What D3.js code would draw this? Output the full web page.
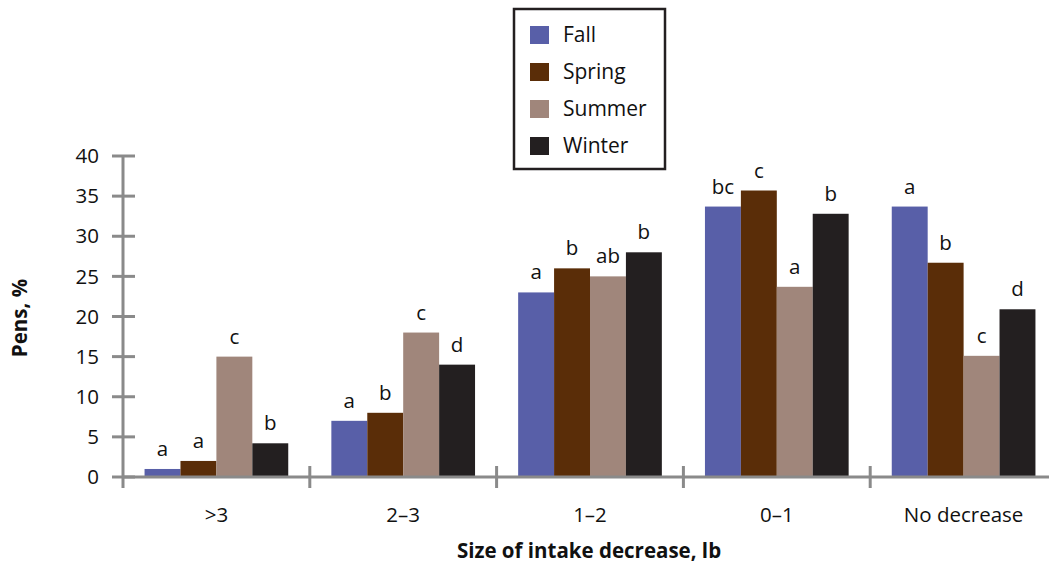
<!DOCTYPE html>
<html>
<head>
<meta charset="utf-8">
<script src="https://cdn.jsdelivr.net/npm/d3@7"></script>
<style>
body { margin: 0; background: #fff; }
svg { display: block; }
text { font-family: "Open Sans", "Noto Sans", sans-serif; fill: #111; }
</style>
</head>
<body>
<svg id="chart" width="1049" height="565"></svg>
<script>
const categories = [">3", "2\u20133", "1\u20132", "0\u20131", "No decrease"];
const seriesNames = ["Fall", "Spring", "Summer", "Winter"];
const seriesColors = ["#585fa8", "#5a2d08", "#a0867b", "#231f20"];
const fallValues   = [1.0, 7.0, 23.0, 33.7, 33.7];
const springValues = [2.0, 8.0, 26.0, 35.7, 26.7];
const summerValues = [15.0, 18.0, 25.0, 23.7, 15.1];
const winterValues = [4.2, 14.0, 28.0, 32.8, 20.9];
const fallLetters   = ["a", "a", "a", "bc", "a"];
const springLetters = ["a", "b", "b", "c", "b"];
const summerLetters = ["c", "c", "ab", "a", "c"];
const winterLetters = ["b", "d", "b", "b", "d"];
const yTicks = [0, 5, 10, 15, 20, 25, 30, 35, 40];

const seriesValues = [fallValues, springValues, summerValues, winterValues];
const seriesLetters = [fallLetters, springLetters, summerLetters, winterLetters];

const svg = d3.select("#chart");
const pLeft = 123, pRight = 1057, pTop = 156, pBottom = 477;

const x0 = d3.scaleBand().domain(categories).range([pLeft, pRight]).paddingInner(0).paddingOuter(0);
const x1 = d3.scaleBand().domain(seriesNames).range([0, x0.bandwidth()]).paddingOuter(0.6).paddingInner(0);
const y = d3.scaleLinear().domain([0, 40]).range([pBottom, pTop]);

const axisColor = "#8a8a8a";
const fs = 20.5;

// bars
const rows = [];
categories.forEach((c, ci) => {
  seriesNames.forEach((s, si) => {
    rows.push({ cat: c, series: s, si, value: seriesValues[si][ci], letter: seriesLetters[si][ci] });
  });
});

svg.append("g").selectAll("rect").data(rows).join("rect")
  .attr("x", d => x0(d.cat) + x1(d.series))
  .attr("y", d => y(d.value))
  .attr("width", x1.bandwidth())
  .attr("height", d => y(0) - y(d.value))
  .attr("fill", d => seriesColors[d.si]);

svg.append("g").selectAll("text").data(rows).join("text")
  .attr("x", d => x0(d.cat) + x1(d.series) + x1.bandwidth() / 2)
  .attr("y", d => y(d.value) - 13)
  .attr("text-anchor", "middle")
  .attr("font-size", fs)
  .text(d => d.letter);

// y axis
const gy = svg.append("g");
gy.append("line").attr("x1", pLeft).attr("x2", pLeft).attr("y1", pTop).attr("y2", pBottom + 11)
  .attr("stroke", axisColor).attr("stroke-width", 3);
gy.selectAll("line.tick").data(yTicks).join("line").attr("class", "tick")
  .attr("x1", pLeft - 11).attr("x2", pLeft + 12)
  .attr("y1", d => y(d)).attr("y2", d => y(d))
  .attr("stroke", axisColor).attr("stroke-width", 3);
gy.selectAll("text").data(yTicks).join("text")
  .attr("x", pLeft - 24).attr("y", d => y(d)).attr("dy", "0.35em")
  .attr("text-anchor", "end").attr("font-size", fs)
  .text(d => d);

// x axis
const gx = svg.append("g");
gx.append("line").attr("x1", pLeft).attr("x2", pRight).attr("y1", pBottom).attr("y2", pBottom)
  .attr("stroke", axisColor).attr("stroke-width", 3);
gx.selectAll("line.sep").data(categories.slice(1)).join("line").attr("class", "sep")
  .attr("x1", d => x0(d)).attr("x2", d => x0(d))
  .attr("y1", pBottom - 11).attr("y2", pBottom + 11)
  .attr("stroke", axisColor).attr("stroke-width", 3);
gx.selectAll("text").data(categories).join("text")
  .attr("x", d => x0(d) + x0.bandwidth() / 2)
  .attr("y", 522)
  .attr("text-anchor", "middle").attr("font-size", fs)
  .text(d => d);

// axis titles
svg.append("text").attr("x", 589).attr("y", 558).attr("text-anchor", "middle")
  .attr("font-size", fs).attr("font-weight", "bold").text("Size of intake decrease, lb");
svg.append("text").attr("transform", "translate(27,318) rotate(-90)").attr("text-anchor", "middle")
  .attr("font-size", fs).attr("font-weight", "bold").text("Pens, %");

// legend
const lg = svg.append("g");
lg.append("rect").attr("x", 514).attr("y", 9).attr("width", 151).attr("height", 160)
  .attr("fill", "#fff").attr("stroke", "#231f20").attr("stroke-width", 2.5);
const ly = d3.scalePoint().domain(seriesNames).range([35, 146]);
lg.selectAll("rect.sw").data(seriesNames).join("rect").attr("class", "sw")
  .attr("x", 530).attr("y", d => ly(d) - 9).attr("width", 19).attr("height", 18)
  .attr("fill", (d, i) => seriesColors[i]);
lg.selectAll("text").data(seriesNames).join("text")
  .attr("x", 563).attr("y", d => ly(d)).attr("dy", "0.35em")
  .attr("font-size", 21).text(d => d);
</script>
</body>
</html>
